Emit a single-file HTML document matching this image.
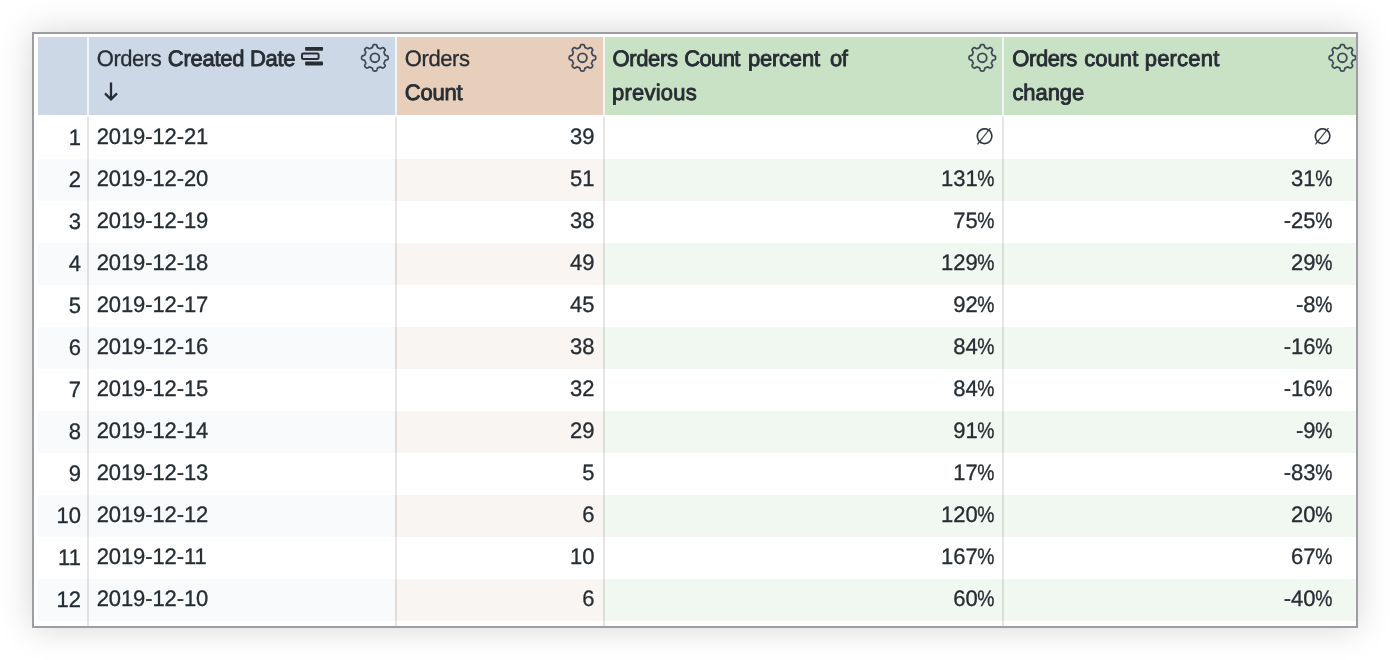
<!DOCTYPE html>
<html><head><meta charset="utf-8"><title>Table</title>
<style>
html,body{margin:0;padding:0;background:#fff;}
body{text-rendering:geometricPrecision;width:1390px;height:660px;overflow:hidden;position:relative;font-family:"Liberation Sans",Arial,sans-serif;color:#262d33;font-size:22px;}
.frame{position:absolute;left:32px;top:32px;width:1322px;height:592px;border:2px solid #9c9ea3;background:#fff;box-shadow:0 0 32px rgba(0,0,0,0.17);overflow:hidden;}
.in{position:absolute;left:-34px;top:-34px;width:1390px;height:660px;}
.c{position:absolute;}
.h{top:37px;height:78px;}
.t{position:absolute;white-space:nowrap;line-height:34px;height:34px;-webkit-text-stroke:0.3px #262d33;transform:scaleY(1.02);transform-origin:0 24.6px;}
.r{text-align:right;}
b{font-weight:normal;-webkit-text-stroke:0.85px #262d33;}
.p{display:inline-block;transform:scaleX(.88);transform-origin:100% 50%;margin-left:-3px;}
.n{color:#2b333b;-webkit-text-stroke:0.2px #2b333b;}
.gear{position:absolute;}
.sep{position:absolute;width:2px;top:117px;height:509px;background:rgba(0,0,0,0.1);}
.seph{position:absolute;width:2px;top:37px;height:78px;background:#f3f4f5;}
</style></head><body>
<div class="frame"><div class="in">

<div class="c h" style="left:38px;width:49px;background:#cdd8e7"></div>
<div class="c h" style="left:89px;width:306px;background:#cdd8e7"></div>
<div class="c h" style="left:397px;width:206px;background:#e8cfbb"></div>
<div class="c h" style="left:605px;width:397px;background:#c9e2c6"></div>
<div class="c h" style="left:1004px;width:358px;background:#c9e2c6"></div>
<div class="c" style="left:38px;width:49px;top:159px;height:42px;background:#f9fafc"></div>
<div class="c" style="left:87px;width:308px;top:159px;height:42px;background:#f9fafc"></div>
<div class="c" style="left:395px;width:208px;top:159px;height:42px;background:#f9f5f2"></div>
<div class="c" style="left:603px;width:399px;top:159px;height:42px;background:#f1f8f1"></div>
<div class="c" style="left:1002px;width:360px;top:159px;height:42px;background:#f1f8f1"></div>
<div class="c" style="left:38px;width:49px;top:243px;height:42px;background:#f9fafc"></div>
<div class="c" style="left:87px;width:308px;top:243px;height:42px;background:#f9fafc"></div>
<div class="c" style="left:395px;width:208px;top:243px;height:42px;background:#f9f5f2"></div>
<div class="c" style="left:603px;width:399px;top:243px;height:42px;background:#f1f8f1"></div>
<div class="c" style="left:1002px;width:360px;top:243px;height:42px;background:#f1f8f1"></div>
<div class="c" style="left:38px;width:49px;top:327px;height:42px;background:#f9fafc"></div>
<div class="c" style="left:87px;width:308px;top:327px;height:42px;background:#f9fafc"></div>
<div class="c" style="left:395px;width:208px;top:327px;height:42px;background:#f9f5f2"></div>
<div class="c" style="left:603px;width:399px;top:327px;height:42px;background:#f1f8f1"></div>
<div class="c" style="left:1002px;width:360px;top:327px;height:42px;background:#f1f8f1"></div>
<div class="c" style="left:38px;width:49px;top:411px;height:42px;background:#f9fafc"></div>
<div class="c" style="left:87px;width:308px;top:411px;height:42px;background:#f9fafc"></div>
<div class="c" style="left:395px;width:208px;top:411px;height:42px;background:#f9f5f2"></div>
<div class="c" style="left:603px;width:399px;top:411px;height:42px;background:#f1f8f1"></div>
<div class="c" style="left:1002px;width:360px;top:411px;height:42px;background:#f1f8f1"></div>
<div class="c" style="left:38px;width:49px;top:495px;height:42px;background:#f9fafc"></div>
<div class="c" style="left:87px;width:308px;top:495px;height:42px;background:#f9fafc"></div>
<div class="c" style="left:395px;width:208px;top:495px;height:42px;background:#f9f5f2"></div>
<div class="c" style="left:603px;width:399px;top:495px;height:42px;background:#f1f8f1"></div>
<div class="c" style="left:1002px;width:360px;top:495px;height:42px;background:#f1f8f1"></div>
<div class="c" style="left:38px;width:49px;top:579px;height:42px;background:#f9fafc"></div>
<div class="c" style="left:87px;width:308px;top:579px;height:42px;background:#f9fafc"></div>
<div class="c" style="left:395px;width:208px;top:579px;height:42px;background:#f9f5f2"></div>
<div class="c" style="left:603px;width:399px;top:579px;height:42px;background:#f1f8f1"></div>
<div class="c" style="left:1002px;width:360px;top:579px;height:42px;background:#f1f8f1"></div>
<div class="seph" style="left:87px"></div><div class="sep" style="left:87px"></div>
<div class="seph" style="left:395px"></div><div class="sep" style="left:395px"></div>
<div class="seph" style="left:603px"></div><div class="sep" style="left:603px"></div>
<div class="seph" style="left:1002px"></div><div class="sep" style="left:1002px"></div>
<div class="t" id="h1a" style="left:96.86px;top:41.8px;letter-spacing:-0.475px">Orders</div>
<div class="t" id="h1b" style="left:167.84px;top:41.8px;letter-spacing:-0.283px"><b>Created Date</b></div>
<div class="t" id="h2a" style="left:404.76px;top:41.8px;letter-spacing:-0.403px">Orders</div>
<div class="t" id="h2b" style="left:404.85px;top:75.8px;letter-spacing:-0.225px"><b>Count</b></div>
<div class="t" id="h3a" style="left:612.40px;top:41.8px;letter-spacing:-0.337px"><b>Orders</b></div>
<div class="t" id="h3b" style="left:684.22px;top:41.8px;letter-spacing:-0.624px"><b>Count</b></div>
<div class="t" id="h3c" style="left:747.92px;top:41.8px;letter-spacing:-0.210px"><b>percent</b></div>
<div class="t" id="h3d" style="left:829.94px;top:41.8px;letter-spacing:-0.485px"><b>of</b></div>
<div class="t" id="h3e" style="left:611.97px;top:75.8px;letter-spacing:0.241px"><b>previous</b></div>
<div class="t" id="h4a" style="left:1012.34px;top:41.8px;letter-spacing:-0.445px"><b>Orders</b></div>
<div class="t" id="h4c" style="left:1084.18px;top:41.8px;letter-spacing:0.068px"><b>count</b></div>
<div class="t" id="h4d" style="left:1144.77px;top:41.8px;letter-spacing:0.184px"><b>percent</b></div>
<div class="t" id="h4b" style="left:1012.43px;top:75.8px;letter-spacing:-0.079px"><b>change</b></div>
<svg class="c" style="left:300px;top:46px" width="24" height="20" viewBox="0 0 24 20"><rect x="5.1" y="0.9" width="17.9" height="3.9" rx="0.8" fill="#262d33"/><rect x="2.0" y="7.5" width="16.6" height="5.5" rx="1.2" fill="none" stroke="#262d33" stroke-width="2.0"/><rect x="5.1" y="15.6" width="17.9" height="3.8" rx="0.8" fill="#262d33"/></svg>
<svg class="c" style="left:103px;top:81px" width="16" height="22" viewBox="0 0 16 22"><path d="M8 1.4V19M2 12.4L8 18.4L14 12.4" fill="none" stroke="#262d33" stroke-width="2.3"/></svg>
<svg class="gear" style="left:358px;top:41px" width="32" height="32" viewBox="-16 -16 32 32"><g transform="translate(0.90 0.80)"><path d="M0.00 -13.23L0.23 -13.23L0.46 -13.22L0.69 -13.19L0.92 -13.16L1.15 -13.10L1.37 -13.01L1.58 -12.87L1.78 -12.64L1.95 -12.30L2.09 -11.85L2.21 -11.35L2.32 -10.91L2.44 -10.57L2.58 -10.35L2.73 -10.20L2.90 -10.10L3.06 -10.02L3.23 -9.95L3.40 -9.88L3.57 -9.81L3.74 -9.75L3.91 -9.68L4.08 -9.61L4.25 -9.54L4.41 -9.47L4.58 -9.39L4.75 -9.32L4.92 -9.25L5.09 -9.19L5.28 -9.15L5.50 -9.15L5.75 -9.20L6.07 -9.35L6.47 -9.59L6.90 -9.86L7.32 -10.08L7.68 -10.20L7.98 -10.22L8.23 -10.17L8.45 -10.07L8.65 -9.95L8.84 -9.82L9.02 -9.67L9.19 -9.52L9.36 -9.36L9.52 -9.19L9.67 -9.02L9.82 -8.84L9.95 -8.65L10.07 -8.45L10.17 -8.23L10.22 -7.98L10.20 -7.68L10.08 -7.32L9.86 -6.90L9.59 -6.47L9.35 -6.07L9.20 -5.75L9.15 -5.50L9.15 -5.28L9.19 -5.09L9.25 -4.92L9.32 -4.75L9.39 -4.58L9.47 -4.41L9.54 -4.25L9.61 -4.08L9.68 -3.91L9.75 -3.74L9.81 -3.57L9.88 -3.40L9.95 -3.23L10.02 -3.06L10.10 -2.90L10.20 -2.73L10.35 -2.58L10.57 -2.44L10.91 -2.32L11.35 -2.21L11.85 -2.09L12.30 -1.95L12.64 -1.78L12.87 -1.58L13.01 -1.37L13.10 -1.15L13.16 -0.92L13.19 -0.69L13.22 -0.46L13.23 -0.23L13.23 -0.00L13.23 0.23L13.22 0.46L13.19 0.69L13.16 0.92L13.10 1.15L13.01 1.37L12.87 1.58L12.64 1.78L12.30 1.95L11.85 2.09L11.35 2.21L10.91 2.32L10.57 2.44L10.35 2.58L10.20 2.73L10.10 2.90L10.02 3.06L9.95 3.23L9.88 3.40L9.81 3.57L9.75 3.74L9.68 3.91L9.61 4.08L9.54 4.25L9.47 4.41L9.39 4.58L9.32 4.75L9.25 4.92L9.19 5.09L9.15 5.28L9.15 5.50L9.20 5.75L9.35 6.07L9.59 6.47L9.86 6.90L10.08 7.32L10.20 7.68L10.22 7.98L10.17 8.23L10.07 8.45L9.95 8.65L9.82 8.84L9.67 9.02L9.52 9.19L9.36 9.36L9.19 9.52L9.02 9.67L8.84 9.82L8.65 9.95L8.45 10.07L8.23 10.17L7.98 10.22L7.68 10.20L7.32 10.08L6.90 9.86L6.47 9.59L6.07 9.35L5.75 9.20L5.50 9.15L5.28 9.15L5.09 9.19L4.92 9.25L4.75 9.32L4.58 9.39L4.41 9.47L4.25 9.54L4.08 9.61L3.91 9.68L3.74 9.75L3.57 9.81L3.40 9.88L3.23 9.95L3.06 10.02L2.90 10.10L2.73 10.20L2.58 10.35L2.44 10.57L2.32 10.91L2.21 11.35L2.09 11.85L1.95 12.30L1.78 12.64L1.58 12.87L1.37 13.01L1.15 13.10L0.92 13.16L0.69 13.19L0.46 13.22L0.23 13.23L0.00 13.23L-0.23 13.23L-0.46 13.22L-0.69 13.19L-0.92 13.16L-1.15 13.10L-1.37 13.01L-1.58 12.87L-1.78 12.64L-1.95 12.30L-2.09 11.85L-2.21 11.35L-2.32 10.91L-2.44 10.57L-2.58 10.35L-2.73 10.20L-2.90 10.10L-3.06 10.02L-3.23 9.95L-3.40 9.88L-3.57 9.81L-3.74 9.75L-3.91 9.68L-4.08 9.61L-4.25 9.54L-4.41 9.47L-4.58 9.39L-4.75 9.32L-4.92 9.25L-5.09 9.19L-5.28 9.15L-5.50 9.15L-5.75 9.20L-6.07 9.35L-6.47 9.59L-6.90 9.86L-7.32 10.08L-7.68 10.20L-7.98 10.22L-8.23 10.17L-8.45 10.07L-8.65 9.95L-8.84 9.82L-9.02 9.67L-9.19 9.52L-9.36 9.36L-9.52 9.19L-9.67 9.02L-9.82 8.84L-9.95 8.65L-10.07 8.45L-10.17 8.23L-10.22 7.98L-10.20 7.68L-10.08 7.32L-9.86 6.90L-9.59 6.47L-9.35 6.07L-9.20 5.75L-9.15 5.50L-9.15 5.28L-9.19 5.09L-9.25 4.92L-9.32 4.75L-9.39 4.58L-9.47 4.41L-9.54 4.25L-9.61 4.08L-9.68 3.91L-9.75 3.74L-9.81 3.57L-9.88 3.40L-9.95 3.23L-10.02 3.06L-10.10 2.90L-10.20 2.73L-10.35 2.58L-10.57 2.44L-10.91 2.32L-11.35 2.21L-11.85 2.09L-12.30 1.95L-12.64 1.78L-12.87 1.58L-13.01 1.37L-13.10 1.15L-13.16 0.92L-13.19 0.69L-13.22 0.46L-13.23 0.23L-13.23 0.00L-13.23 -0.23L-13.22 -0.46L-13.19 -0.69L-13.16 -0.92L-13.10 -1.15L-13.01 -1.37L-12.87 -1.58L-12.64 -1.78L-12.30 -1.95L-11.85 -2.09L-11.35 -2.21L-10.91 -2.32L-10.57 -2.44L-10.35 -2.58L-10.20 -2.73L-10.10 -2.90L-10.02 -3.06L-9.95 -3.23L-9.88 -3.40L-9.81 -3.57L-9.75 -3.74L-9.68 -3.91L-9.61 -4.08L-9.54 -4.25L-9.47 -4.41L-9.39 -4.58L-9.32 -4.75L-9.25 -4.92L-9.19 -5.09L-9.15 -5.28L-9.15 -5.50L-9.20 -5.75L-9.35 -6.07L-9.59 -6.47L-9.86 -6.90L-10.08 -7.32L-10.20 -7.68L-10.22 -7.98L-10.17 -8.23L-10.07 -8.45L-9.95 -8.65L-9.82 -8.84L-9.67 -9.02L-9.52 -9.19L-9.36 -9.36L-9.19 -9.52L-9.02 -9.67L-8.84 -9.82L-8.65 -9.95L-8.45 -10.07L-8.23 -10.17L-7.98 -10.22L-7.68 -10.20L-7.32 -10.08L-6.90 -9.86L-6.47 -9.59L-6.07 -9.35L-5.75 -9.20L-5.50 -9.15L-5.28 -9.15L-5.09 -9.19L-4.92 -9.25L-4.75 -9.32L-4.58 -9.39L-4.41 -9.47L-4.25 -9.54L-4.08 -9.61L-3.91 -9.68L-3.74 -9.75L-3.57 -9.81L-3.40 -9.88L-3.23 -9.95L-3.06 -10.02L-2.90 -10.10L-2.73 -10.20L-2.58 -10.35L-2.44 -10.57L-2.32 -10.91L-2.21 -11.35L-2.09 -11.85L-1.95 -12.30L-1.78 -12.64L-1.58 -12.87L-1.37 -13.01L-1.15 -13.10L-0.92 -13.16L-0.69 -13.19L-0.46 -13.22L-0.23 -13.23L-0.00 -13.23Z" fill="none" stroke="#3f4955" stroke-width="1.75" stroke-linejoin="round"/><circle r="4.45" fill="none" stroke="#3f4955" stroke-width="1.85"/></g></svg>
<svg class="gear" style="left:566px;top:41px" width="32" height="32" viewBox="-16 -16 32 32"><g transform="translate(0.45 0.80)"><path d="M0.00 -13.23L0.23 -13.23L0.46 -13.22L0.69 -13.19L0.92 -13.16L1.15 -13.10L1.37 -13.01L1.58 -12.87L1.78 -12.64L1.95 -12.30L2.09 -11.85L2.21 -11.35L2.32 -10.91L2.44 -10.57L2.58 -10.35L2.73 -10.20L2.90 -10.10L3.06 -10.02L3.23 -9.95L3.40 -9.88L3.57 -9.81L3.74 -9.75L3.91 -9.68L4.08 -9.61L4.25 -9.54L4.41 -9.47L4.58 -9.39L4.75 -9.32L4.92 -9.25L5.09 -9.19L5.28 -9.15L5.50 -9.15L5.75 -9.20L6.07 -9.35L6.47 -9.59L6.90 -9.86L7.32 -10.08L7.68 -10.20L7.98 -10.22L8.23 -10.17L8.45 -10.07L8.65 -9.95L8.84 -9.82L9.02 -9.67L9.19 -9.52L9.36 -9.36L9.52 -9.19L9.67 -9.02L9.82 -8.84L9.95 -8.65L10.07 -8.45L10.17 -8.23L10.22 -7.98L10.20 -7.68L10.08 -7.32L9.86 -6.90L9.59 -6.47L9.35 -6.07L9.20 -5.75L9.15 -5.50L9.15 -5.28L9.19 -5.09L9.25 -4.92L9.32 -4.75L9.39 -4.58L9.47 -4.41L9.54 -4.25L9.61 -4.08L9.68 -3.91L9.75 -3.74L9.81 -3.57L9.88 -3.40L9.95 -3.23L10.02 -3.06L10.10 -2.90L10.20 -2.73L10.35 -2.58L10.57 -2.44L10.91 -2.32L11.35 -2.21L11.85 -2.09L12.30 -1.95L12.64 -1.78L12.87 -1.58L13.01 -1.37L13.10 -1.15L13.16 -0.92L13.19 -0.69L13.22 -0.46L13.23 -0.23L13.23 -0.00L13.23 0.23L13.22 0.46L13.19 0.69L13.16 0.92L13.10 1.15L13.01 1.37L12.87 1.58L12.64 1.78L12.30 1.95L11.85 2.09L11.35 2.21L10.91 2.32L10.57 2.44L10.35 2.58L10.20 2.73L10.10 2.90L10.02 3.06L9.95 3.23L9.88 3.40L9.81 3.57L9.75 3.74L9.68 3.91L9.61 4.08L9.54 4.25L9.47 4.41L9.39 4.58L9.32 4.75L9.25 4.92L9.19 5.09L9.15 5.28L9.15 5.50L9.20 5.75L9.35 6.07L9.59 6.47L9.86 6.90L10.08 7.32L10.20 7.68L10.22 7.98L10.17 8.23L10.07 8.45L9.95 8.65L9.82 8.84L9.67 9.02L9.52 9.19L9.36 9.36L9.19 9.52L9.02 9.67L8.84 9.82L8.65 9.95L8.45 10.07L8.23 10.17L7.98 10.22L7.68 10.20L7.32 10.08L6.90 9.86L6.47 9.59L6.07 9.35L5.75 9.20L5.50 9.15L5.28 9.15L5.09 9.19L4.92 9.25L4.75 9.32L4.58 9.39L4.41 9.47L4.25 9.54L4.08 9.61L3.91 9.68L3.74 9.75L3.57 9.81L3.40 9.88L3.23 9.95L3.06 10.02L2.90 10.10L2.73 10.20L2.58 10.35L2.44 10.57L2.32 10.91L2.21 11.35L2.09 11.85L1.95 12.30L1.78 12.64L1.58 12.87L1.37 13.01L1.15 13.10L0.92 13.16L0.69 13.19L0.46 13.22L0.23 13.23L0.00 13.23L-0.23 13.23L-0.46 13.22L-0.69 13.19L-0.92 13.16L-1.15 13.10L-1.37 13.01L-1.58 12.87L-1.78 12.64L-1.95 12.30L-2.09 11.85L-2.21 11.35L-2.32 10.91L-2.44 10.57L-2.58 10.35L-2.73 10.20L-2.90 10.10L-3.06 10.02L-3.23 9.95L-3.40 9.88L-3.57 9.81L-3.74 9.75L-3.91 9.68L-4.08 9.61L-4.25 9.54L-4.41 9.47L-4.58 9.39L-4.75 9.32L-4.92 9.25L-5.09 9.19L-5.28 9.15L-5.50 9.15L-5.75 9.20L-6.07 9.35L-6.47 9.59L-6.90 9.86L-7.32 10.08L-7.68 10.20L-7.98 10.22L-8.23 10.17L-8.45 10.07L-8.65 9.95L-8.84 9.82L-9.02 9.67L-9.19 9.52L-9.36 9.36L-9.52 9.19L-9.67 9.02L-9.82 8.84L-9.95 8.65L-10.07 8.45L-10.17 8.23L-10.22 7.98L-10.20 7.68L-10.08 7.32L-9.86 6.90L-9.59 6.47L-9.35 6.07L-9.20 5.75L-9.15 5.50L-9.15 5.28L-9.19 5.09L-9.25 4.92L-9.32 4.75L-9.39 4.58L-9.47 4.41L-9.54 4.25L-9.61 4.08L-9.68 3.91L-9.75 3.74L-9.81 3.57L-9.88 3.40L-9.95 3.23L-10.02 3.06L-10.10 2.90L-10.20 2.73L-10.35 2.58L-10.57 2.44L-10.91 2.32L-11.35 2.21L-11.85 2.09L-12.30 1.95L-12.64 1.78L-12.87 1.58L-13.01 1.37L-13.10 1.15L-13.16 0.92L-13.19 0.69L-13.22 0.46L-13.23 0.23L-13.23 0.00L-13.23 -0.23L-13.22 -0.46L-13.19 -0.69L-13.16 -0.92L-13.10 -1.15L-13.01 -1.37L-12.87 -1.58L-12.64 -1.78L-12.30 -1.95L-11.85 -2.09L-11.35 -2.21L-10.91 -2.32L-10.57 -2.44L-10.35 -2.58L-10.20 -2.73L-10.10 -2.90L-10.02 -3.06L-9.95 -3.23L-9.88 -3.40L-9.81 -3.57L-9.75 -3.74L-9.68 -3.91L-9.61 -4.08L-9.54 -4.25L-9.47 -4.41L-9.39 -4.58L-9.32 -4.75L-9.25 -4.92L-9.19 -5.09L-9.15 -5.28L-9.15 -5.50L-9.20 -5.75L-9.35 -6.07L-9.59 -6.47L-9.86 -6.90L-10.08 -7.32L-10.20 -7.68L-10.22 -7.98L-10.17 -8.23L-10.07 -8.45L-9.95 -8.65L-9.82 -8.84L-9.67 -9.02L-9.52 -9.19L-9.36 -9.36L-9.19 -9.52L-9.02 -9.67L-8.84 -9.82L-8.65 -9.95L-8.45 -10.07L-8.23 -10.17L-7.98 -10.22L-7.68 -10.20L-7.32 -10.08L-6.90 -9.86L-6.47 -9.59L-6.07 -9.35L-5.75 -9.20L-5.50 -9.15L-5.28 -9.15L-5.09 -9.19L-4.92 -9.25L-4.75 -9.32L-4.58 -9.39L-4.41 -9.47L-4.25 -9.54L-4.08 -9.61L-3.91 -9.68L-3.74 -9.75L-3.57 -9.81L-3.40 -9.88L-3.23 -9.95L-3.06 -10.02L-2.90 -10.10L-2.73 -10.20L-2.58 -10.35L-2.44 -10.57L-2.32 -10.91L-2.21 -11.35L-2.09 -11.85L-1.95 -12.30L-1.78 -12.64L-1.58 -12.87L-1.37 -13.01L-1.15 -13.10L-0.92 -13.16L-0.69 -13.19L-0.46 -13.22L-0.23 -13.23L-0.00 -13.23Z" fill="none" stroke="#3f4955" stroke-width="1.75" stroke-linejoin="round"/><circle r="4.45" fill="none" stroke="#3f4955" stroke-width="1.85"/></g></svg>
<svg class="gear" style="left:966px;top:41px" width="32" height="32" viewBox="-16 -16 32 32"><g transform="translate(0.30 0.80)"><path d="M0.00 -13.23L0.23 -13.23L0.46 -13.22L0.69 -13.19L0.92 -13.16L1.15 -13.10L1.37 -13.01L1.58 -12.87L1.78 -12.64L1.95 -12.30L2.09 -11.85L2.21 -11.35L2.32 -10.91L2.44 -10.57L2.58 -10.35L2.73 -10.20L2.90 -10.10L3.06 -10.02L3.23 -9.95L3.40 -9.88L3.57 -9.81L3.74 -9.75L3.91 -9.68L4.08 -9.61L4.25 -9.54L4.41 -9.47L4.58 -9.39L4.75 -9.32L4.92 -9.25L5.09 -9.19L5.28 -9.15L5.50 -9.15L5.75 -9.20L6.07 -9.35L6.47 -9.59L6.90 -9.86L7.32 -10.08L7.68 -10.20L7.98 -10.22L8.23 -10.17L8.45 -10.07L8.65 -9.95L8.84 -9.82L9.02 -9.67L9.19 -9.52L9.36 -9.36L9.52 -9.19L9.67 -9.02L9.82 -8.84L9.95 -8.65L10.07 -8.45L10.17 -8.23L10.22 -7.98L10.20 -7.68L10.08 -7.32L9.86 -6.90L9.59 -6.47L9.35 -6.07L9.20 -5.75L9.15 -5.50L9.15 -5.28L9.19 -5.09L9.25 -4.92L9.32 -4.75L9.39 -4.58L9.47 -4.41L9.54 -4.25L9.61 -4.08L9.68 -3.91L9.75 -3.74L9.81 -3.57L9.88 -3.40L9.95 -3.23L10.02 -3.06L10.10 -2.90L10.20 -2.73L10.35 -2.58L10.57 -2.44L10.91 -2.32L11.35 -2.21L11.85 -2.09L12.30 -1.95L12.64 -1.78L12.87 -1.58L13.01 -1.37L13.10 -1.15L13.16 -0.92L13.19 -0.69L13.22 -0.46L13.23 -0.23L13.23 -0.00L13.23 0.23L13.22 0.46L13.19 0.69L13.16 0.92L13.10 1.15L13.01 1.37L12.87 1.58L12.64 1.78L12.30 1.95L11.85 2.09L11.35 2.21L10.91 2.32L10.57 2.44L10.35 2.58L10.20 2.73L10.10 2.90L10.02 3.06L9.95 3.23L9.88 3.40L9.81 3.57L9.75 3.74L9.68 3.91L9.61 4.08L9.54 4.25L9.47 4.41L9.39 4.58L9.32 4.75L9.25 4.92L9.19 5.09L9.15 5.28L9.15 5.50L9.20 5.75L9.35 6.07L9.59 6.47L9.86 6.90L10.08 7.32L10.20 7.68L10.22 7.98L10.17 8.23L10.07 8.45L9.95 8.65L9.82 8.84L9.67 9.02L9.52 9.19L9.36 9.36L9.19 9.52L9.02 9.67L8.84 9.82L8.65 9.95L8.45 10.07L8.23 10.17L7.98 10.22L7.68 10.20L7.32 10.08L6.90 9.86L6.47 9.59L6.07 9.35L5.75 9.20L5.50 9.15L5.28 9.15L5.09 9.19L4.92 9.25L4.75 9.32L4.58 9.39L4.41 9.47L4.25 9.54L4.08 9.61L3.91 9.68L3.74 9.75L3.57 9.81L3.40 9.88L3.23 9.95L3.06 10.02L2.90 10.10L2.73 10.20L2.58 10.35L2.44 10.57L2.32 10.91L2.21 11.35L2.09 11.85L1.95 12.30L1.78 12.64L1.58 12.87L1.37 13.01L1.15 13.10L0.92 13.16L0.69 13.19L0.46 13.22L0.23 13.23L0.00 13.23L-0.23 13.23L-0.46 13.22L-0.69 13.19L-0.92 13.16L-1.15 13.10L-1.37 13.01L-1.58 12.87L-1.78 12.64L-1.95 12.30L-2.09 11.85L-2.21 11.35L-2.32 10.91L-2.44 10.57L-2.58 10.35L-2.73 10.20L-2.90 10.10L-3.06 10.02L-3.23 9.95L-3.40 9.88L-3.57 9.81L-3.74 9.75L-3.91 9.68L-4.08 9.61L-4.25 9.54L-4.41 9.47L-4.58 9.39L-4.75 9.32L-4.92 9.25L-5.09 9.19L-5.28 9.15L-5.50 9.15L-5.75 9.20L-6.07 9.35L-6.47 9.59L-6.90 9.86L-7.32 10.08L-7.68 10.20L-7.98 10.22L-8.23 10.17L-8.45 10.07L-8.65 9.95L-8.84 9.82L-9.02 9.67L-9.19 9.52L-9.36 9.36L-9.52 9.19L-9.67 9.02L-9.82 8.84L-9.95 8.65L-10.07 8.45L-10.17 8.23L-10.22 7.98L-10.20 7.68L-10.08 7.32L-9.86 6.90L-9.59 6.47L-9.35 6.07L-9.20 5.75L-9.15 5.50L-9.15 5.28L-9.19 5.09L-9.25 4.92L-9.32 4.75L-9.39 4.58L-9.47 4.41L-9.54 4.25L-9.61 4.08L-9.68 3.91L-9.75 3.74L-9.81 3.57L-9.88 3.40L-9.95 3.23L-10.02 3.06L-10.10 2.90L-10.20 2.73L-10.35 2.58L-10.57 2.44L-10.91 2.32L-11.35 2.21L-11.85 2.09L-12.30 1.95L-12.64 1.78L-12.87 1.58L-13.01 1.37L-13.10 1.15L-13.16 0.92L-13.19 0.69L-13.22 0.46L-13.23 0.23L-13.23 0.00L-13.23 -0.23L-13.22 -0.46L-13.19 -0.69L-13.16 -0.92L-13.10 -1.15L-13.01 -1.37L-12.87 -1.58L-12.64 -1.78L-12.30 -1.95L-11.85 -2.09L-11.35 -2.21L-10.91 -2.32L-10.57 -2.44L-10.35 -2.58L-10.20 -2.73L-10.10 -2.90L-10.02 -3.06L-9.95 -3.23L-9.88 -3.40L-9.81 -3.57L-9.75 -3.74L-9.68 -3.91L-9.61 -4.08L-9.54 -4.25L-9.47 -4.41L-9.39 -4.58L-9.32 -4.75L-9.25 -4.92L-9.19 -5.09L-9.15 -5.28L-9.15 -5.50L-9.20 -5.75L-9.35 -6.07L-9.59 -6.47L-9.86 -6.90L-10.08 -7.32L-10.20 -7.68L-10.22 -7.98L-10.17 -8.23L-10.07 -8.45L-9.95 -8.65L-9.82 -8.84L-9.67 -9.02L-9.52 -9.19L-9.36 -9.36L-9.19 -9.52L-9.02 -9.67L-8.84 -9.82L-8.65 -9.95L-8.45 -10.07L-8.23 -10.17L-7.98 -10.22L-7.68 -10.20L-7.32 -10.08L-6.90 -9.86L-6.47 -9.59L-6.07 -9.35L-5.75 -9.20L-5.50 -9.15L-5.28 -9.15L-5.09 -9.19L-4.92 -9.25L-4.75 -9.32L-4.58 -9.39L-4.41 -9.47L-4.25 -9.54L-4.08 -9.61L-3.91 -9.68L-3.74 -9.75L-3.57 -9.81L-3.40 -9.88L-3.23 -9.95L-3.06 -10.02L-2.90 -10.10L-2.73 -10.20L-2.58 -10.35L-2.44 -10.57L-2.32 -10.91L-2.21 -11.35L-2.09 -11.85L-1.95 -12.30L-1.78 -12.64L-1.58 -12.87L-1.37 -13.01L-1.15 -13.10L-0.92 -13.16L-0.69 -13.19L-0.46 -13.22L-0.23 -13.23L-0.00 -13.23Z" fill="none" stroke="#3f4955" stroke-width="1.75" stroke-linejoin="round"/><circle r="4.45" fill="none" stroke="#3f4955" stroke-width="1.85"/></g></svg>
<svg class="gear" style="left:1326px;top:41px" width="32" height="32" viewBox="-16 -16 32 32"><g transform="translate(0.40 0.80)"><path d="M0.00 -13.23L0.23 -13.23L0.46 -13.22L0.69 -13.19L0.92 -13.16L1.15 -13.10L1.37 -13.01L1.58 -12.87L1.78 -12.64L1.95 -12.30L2.09 -11.85L2.21 -11.35L2.32 -10.91L2.44 -10.57L2.58 -10.35L2.73 -10.20L2.90 -10.10L3.06 -10.02L3.23 -9.95L3.40 -9.88L3.57 -9.81L3.74 -9.75L3.91 -9.68L4.08 -9.61L4.25 -9.54L4.41 -9.47L4.58 -9.39L4.75 -9.32L4.92 -9.25L5.09 -9.19L5.28 -9.15L5.50 -9.15L5.75 -9.20L6.07 -9.35L6.47 -9.59L6.90 -9.86L7.32 -10.08L7.68 -10.20L7.98 -10.22L8.23 -10.17L8.45 -10.07L8.65 -9.95L8.84 -9.82L9.02 -9.67L9.19 -9.52L9.36 -9.36L9.52 -9.19L9.67 -9.02L9.82 -8.84L9.95 -8.65L10.07 -8.45L10.17 -8.23L10.22 -7.98L10.20 -7.68L10.08 -7.32L9.86 -6.90L9.59 -6.47L9.35 -6.07L9.20 -5.75L9.15 -5.50L9.15 -5.28L9.19 -5.09L9.25 -4.92L9.32 -4.75L9.39 -4.58L9.47 -4.41L9.54 -4.25L9.61 -4.08L9.68 -3.91L9.75 -3.74L9.81 -3.57L9.88 -3.40L9.95 -3.23L10.02 -3.06L10.10 -2.90L10.20 -2.73L10.35 -2.58L10.57 -2.44L10.91 -2.32L11.35 -2.21L11.85 -2.09L12.30 -1.95L12.64 -1.78L12.87 -1.58L13.01 -1.37L13.10 -1.15L13.16 -0.92L13.19 -0.69L13.22 -0.46L13.23 -0.23L13.23 -0.00L13.23 0.23L13.22 0.46L13.19 0.69L13.16 0.92L13.10 1.15L13.01 1.37L12.87 1.58L12.64 1.78L12.30 1.95L11.85 2.09L11.35 2.21L10.91 2.32L10.57 2.44L10.35 2.58L10.20 2.73L10.10 2.90L10.02 3.06L9.95 3.23L9.88 3.40L9.81 3.57L9.75 3.74L9.68 3.91L9.61 4.08L9.54 4.25L9.47 4.41L9.39 4.58L9.32 4.75L9.25 4.92L9.19 5.09L9.15 5.28L9.15 5.50L9.20 5.75L9.35 6.07L9.59 6.47L9.86 6.90L10.08 7.32L10.20 7.68L10.22 7.98L10.17 8.23L10.07 8.45L9.95 8.65L9.82 8.84L9.67 9.02L9.52 9.19L9.36 9.36L9.19 9.52L9.02 9.67L8.84 9.82L8.65 9.95L8.45 10.07L8.23 10.17L7.98 10.22L7.68 10.20L7.32 10.08L6.90 9.86L6.47 9.59L6.07 9.35L5.75 9.20L5.50 9.15L5.28 9.15L5.09 9.19L4.92 9.25L4.75 9.32L4.58 9.39L4.41 9.47L4.25 9.54L4.08 9.61L3.91 9.68L3.74 9.75L3.57 9.81L3.40 9.88L3.23 9.95L3.06 10.02L2.90 10.10L2.73 10.20L2.58 10.35L2.44 10.57L2.32 10.91L2.21 11.35L2.09 11.85L1.95 12.30L1.78 12.64L1.58 12.87L1.37 13.01L1.15 13.10L0.92 13.16L0.69 13.19L0.46 13.22L0.23 13.23L0.00 13.23L-0.23 13.23L-0.46 13.22L-0.69 13.19L-0.92 13.16L-1.15 13.10L-1.37 13.01L-1.58 12.87L-1.78 12.64L-1.95 12.30L-2.09 11.85L-2.21 11.35L-2.32 10.91L-2.44 10.57L-2.58 10.35L-2.73 10.20L-2.90 10.10L-3.06 10.02L-3.23 9.95L-3.40 9.88L-3.57 9.81L-3.74 9.75L-3.91 9.68L-4.08 9.61L-4.25 9.54L-4.41 9.47L-4.58 9.39L-4.75 9.32L-4.92 9.25L-5.09 9.19L-5.28 9.15L-5.50 9.15L-5.75 9.20L-6.07 9.35L-6.47 9.59L-6.90 9.86L-7.32 10.08L-7.68 10.20L-7.98 10.22L-8.23 10.17L-8.45 10.07L-8.65 9.95L-8.84 9.82L-9.02 9.67L-9.19 9.52L-9.36 9.36L-9.52 9.19L-9.67 9.02L-9.82 8.84L-9.95 8.65L-10.07 8.45L-10.17 8.23L-10.22 7.98L-10.20 7.68L-10.08 7.32L-9.86 6.90L-9.59 6.47L-9.35 6.07L-9.20 5.75L-9.15 5.50L-9.15 5.28L-9.19 5.09L-9.25 4.92L-9.32 4.75L-9.39 4.58L-9.47 4.41L-9.54 4.25L-9.61 4.08L-9.68 3.91L-9.75 3.74L-9.81 3.57L-9.88 3.40L-9.95 3.23L-10.02 3.06L-10.10 2.90L-10.20 2.73L-10.35 2.58L-10.57 2.44L-10.91 2.32L-11.35 2.21L-11.85 2.09L-12.30 1.95L-12.64 1.78L-12.87 1.58L-13.01 1.37L-13.10 1.15L-13.16 0.92L-13.19 0.69L-13.22 0.46L-13.23 0.23L-13.23 0.00L-13.23 -0.23L-13.22 -0.46L-13.19 -0.69L-13.16 -0.92L-13.10 -1.15L-13.01 -1.37L-12.87 -1.58L-12.64 -1.78L-12.30 -1.95L-11.85 -2.09L-11.35 -2.21L-10.91 -2.32L-10.57 -2.44L-10.35 -2.58L-10.20 -2.73L-10.10 -2.90L-10.02 -3.06L-9.95 -3.23L-9.88 -3.40L-9.81 -3.57L-9.75 -3.74L-9.68 -3.91L-9.61 -4.08L-9.54 -4.25L-9.47 -4.41L-9.39 -4.58L-9.32 -4.75L-9.25 -4.92L-9.19 -5.09L-9.15 -5.28L-9.15 -5.50L-9.20 -5.75L-9.35 -6.07L-9.59 -6.47L-9.86 -6.90L-10.08 -7.32L-10.20 -7.68L-10.22 -7.98L-10.17 -8.23L-10.07 -8.45L-9.95 -8.65L-9.82 -8.84L-9.67 -9.02L-9.52 -9.19L-9.36 -9.36L-9.19 -9.52L-9.02 -9.67L-8.84 -9.82L-8.65 -9.95L-8.45 -10.07L-8.23 -10.17L-7.98 -10.22L-7.68 -10.20L-7.32 -10.08L-6.90 -9.86L-6.47 -9.59L-6.07 -9.35L-5.75 -9.20L-5.50 -9.15L-5.28 -9.15L-5.09 -9.19L-4.92 -9.25L-4.75 -9.32L-4.58 -9.39L-4.41 -9.47L-4.25 -9.54L-4.08 -9.61L-3.91 -9.68L-3.74 -9.75L-3.57 -9.81L-3.40 -9.88L-3.23 -9.95L-3.06 -10.02L-2.90 -10.10L-2.73 -10.20L-2.58 -10.35L-2.44 -10.57L-2.32 -10.91L-2.21 -11.35L-2.09 -11.85L-1.95 -12.30L-1.78 -12.64L-1.58 -12.87L-1.37 -13.01L-1.15 -13.10L-0.92 -13.16L-0.69 -13.19L-0.46 -13.22L-0.23 -13.23L-0.00 -13.23Z" fill="none" stroke="#3f4955" stroke-width="1.75" stroke-linejoin="round"/><circle r="4.45" fill="none" stroke="#3f4955" stroke-width="1.85"/></g></svg>
<div class="t r" style="left:38px;width:42.9px;top:120.7px">1</div>
<div class="t" style="left:96.7px;top:119.7px;letter-spacing:-0.1px">2019-12-21</div>
<div class="t r" style="left:397px;width:197.4px;top:119.7px">39</div>
<div class="t r" style="left:605px;width:389.2px;top:119.7px"><span class="n">∅</span></div>
<div class="t r" style="left:1004px;width:328.1px;top:119.7px"><span class="n">∅</span></div>
<div class="t r" style="left:38px;width:42.9px;top:162.7px">2</div>
<div class="t" style="left:96.7px;top:161.7px;letter-spacing:-0.1px">2019-12-20</div>
<div class="t r" style="left:397px;width:197.4px;top:161.7px">51</div>
<div class="t r" style="left:605px;width:389.2px;top:161.7px">131<span class="p">%</span></div>
<div class="t r" style="left:1004px;width:328.1px;top:161.7px">31<span class="p">%</span></div>
<div class="t r" style="left:38px;width:42.9px;top:204.7px">3</div>
<div class="t" style="left:96.7px;top:203.7px;letter-spacing:-0.1px">2019-12-19</div>
<div class="t r" style="left:397px;width:197.4px;top:203.7px">38</div>
<div class="t r" style="left:605px;width:389.2px;top:203.7px">75<span class="p">%</span></div>
<div class="t r" style="left:1004px;width:328.1px;top:203.7px">-25<span class="p">%</span></div>
<div class="t r" style="left:38px;width:42.9px;top:246.7px">4</div>
<div class="t" style="left:96.7px;top:245.7px;letter-spacing:-0.1px">2019-12-18</div>
<div class="t r" style="left:397px;width:197.4px;top:245.7px">49</div>
<div class="t r" style="left:605px;width:389.2px;top:245.7px">129<span class="p">%</span></div>
<div class="t r" style="left:1004px;width:328.1px;top:245.7px">29<span class="p">%</span></div>
<div class="t r" style="left:38px;width:42.9px;top:288.7px">5</div>
<div class="t" style="left:96.7px;top:287.7px;letter-spacing:-0.1px">2019-12-17</div>
<div class="t r" style="left:397px;width:197.4px;top:287.7px">45</div>
<div class="t r" style="left:605px;width:389.2px;top:287.7px">92<span class="p">%</span></div>
<div class="t r" style="left:1004px;width:328.1px;top:287.7px">-8<span class="p">%</span></div>
<div class="t r" style="left:38px;width:42.9px;top:330.7px">6</div>
<div class="t" style="left:96.7px;top:329.7px;letter-spacing:-0.1px">2019-12-16</div>
<div class="t r" style="left:397px;width:197.4px;top:329.7px">38</div>
<div class="t r" style="left:605px;width:389.2px;top:329.7px">84<span class="p">%</span></div>
<div class="t r" style="left:1004px;width:328.1px;top:329.7px">-16<span class="p">%</span></div>
<div class="t r" style="left:38px;width:42.9px;top:372.7px">7</div>
<div class="t" style="left:96.7px;top:371.7px;letter-spacing:-0.1px">2019-12-15</div>
<div class="t r" style="left:397px;width:197.4px;top:371.7px">32</div>
<div class="t r" style="left:605px;width:389.2px;top:371.7px">84<span class="p">%</span></div>
<div class="t r" style="left:1004px;width:328.1px;top:371.7px">-16<span class="p">%</span></div>
<div class="t r" style="left:38px;width:42.9px;top:414.7px">8</div>
<div class="t" style="left:96.7px;top:413.7px;letter-spacing:-0.1px">2019-12-14</div>
<div class="t r" style="left:397px;width:197.4px;top:413.7px">29</div>
<div class="t r" style="left:605px;width:389.2px;top:413.7px">91<span class="p">%</span></div>
<div class="t r" style="left:1004px;width:328.1px;top:413.7px">-9<span class="p">%</span></div>
<div class="t r" style="left:38px;width:42.9px;top:456.7px">9</div>
<div class="t" style="left:96.7px;top:455.7px;letter-spacing:-0.1px">2019-12-13</div>
<div class="t r" style="left:397px;width:197.4px;top:455.7px">5</div>
<div class="t r" style="left:605px;width:389.2px;top:455.7px">17<span class="p">%</span></div>
<div class="t r" style="left:1004px;width:328.1px;top:455.7px">-83<span class="p">%</span></div>
<div class="t r" style="left:38px;width:42.9px;top:498.7px">10</div>
<div class="t" style="left:96.7px;top:497.7px;letter-spacing:-0.1px">2019-12-12</div>
<div class="t r" style="left:397px;width:197.4px;top:497.7px">6</div>
<div class="t r" style="left:605px;width:389.2px;top:497.7px">120<span class="p">%</span></div>
<div class="t r" style="left:1004px;width:328.1px;top:497.7px">20<span class="p">%</span></div>
<div class="t r" style="left:38px;width:42.9px;top:540.7px">11</div>
<div class="t" style="left:96.7px;top:539.7px;letter-spacing:-0.1px">2019-12-11</div>
<div class="t r" style="left:397px;width:197.4px;top:539.7px">10</div>
<div class="t r" style="left:605px;width:389.2px;top:539.7px">167<span class="p">%</span></div>
<div class="t r" style="left:1004px;width:328.1px;top:539.7px">67<span class="p">%</span></div>
<div class="t r" style="left:38px;width:42.9px;top:582.7px">12</div>
<div class="t" style="left:96.7px;top:581.7px;letter-spacing:-0.1px">2019-12-10</div>
<div class="t r" style="left:397px;width:197.4px;top:581.7px">6</div>
<div class="t r" style="left:605px;width:389.2px;top:581.7px">60<span class="p">%</span></div>
<div class="t r" style="left:1004px;width:328.1px;top:581.7px">-40<span class="p">%</span></div>
</div></div></body></html>
